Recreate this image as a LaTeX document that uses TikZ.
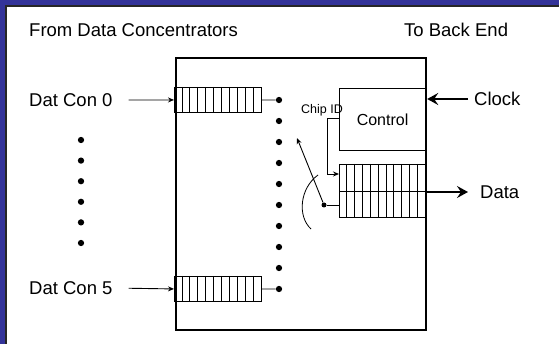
\documentclass[tikz,border=0pt]{standalone}
\usepackage{fontspec}
\setmainfont{Liberation Sans}
\usetikzlibrary{arrows.meta,positioning}
\definecolor{slideblue}{RGB}{51,51,153}

\begin{document}
\begin{tikzpicture}[x=1pt,y=-1pt,
  lbl/.style={inner sep=0pt, anchor=west, text depth=0pt,
    font=\fontsize{18.5}{22}\selectfont},
  smalllbl/.style={inner sep=0pt, anchor=west, text depth=0pt,
    font=\fontsize{12.5}{14}\selectfont},
  chipbox/.style={draw, line width=2.2pt, inner sep=0pt, anchor=north west},
  fifo/.style={draw, line width=0.9pt, inner sep=0pt, anchor=north west},
  ctrlbox/.style={draw, line width=1.1pt, inner sep=0pt, anchor=north west,
    minimum width=86pt, minimum height=62pt,
    font=\fontsize{16}{18}\selectfont},
  dot/.style={circle, fill=black, inner sep=0pt, minimum size=6.3pt},
  cellline/.style={line width=0.8pt},
  inarr/.style={-{Stealth[length=6pt,width=5pt]}, line width=0.9pt},
  bigarr/.style={-{Stealth[length=11pt,width=12pt,inset=4pt]}, line width=2pt}
]
% slide frame
\useasboundingbox (0,0) rectangle (559,344);
\fill[slideblue] (0,0) rectangle (559,344);
\fill[white] (5.5,5.5) rectangle (559,344);
\draw[line width=1.5pt, black!85] (6.2,344) -- (6.2,6.2) -- (559,6.2);

\node[lbl] (from) at (29,30)  {From Data Concentrators};
\node[lbl] (to)   at (404,30) {To Back End};

% chip outline
\node[chipbox, minimum width=250pt, minimum height=272pt] (chip) at (175,57) {};

% input fifos
\foreach \q/\y in {q0/87, q5/276} {
  \node[fifo, minimum width=87pt, minimum height=25pt] (\q) at (174,\y) {};
  \foreach \i in {1,...,10}
    \draw[cellline] (174+\i*7.91,\y) -- ++(0,25);
}

% switch contacts
\foreach \k in {0,...,9}
  \node[dot] (d\k) at (279,100+21*\k) {};
\draw[cellline] (q0.east) -- (d0);
\draw[cellline] (q5.east) -- (d9);

% inputs
\node[lbl] (dc0) at (29,100) {Dat Con 0};
\node[lbl] (dc5) at (29,288) {Dat Con 5};
\draw[inarr, shorten <=16pt] (dc0.east) -- (q0.west);
\draw[inarr, shorten <=16pt] (dc5.east) -- (q5.west);
\foreach \k in {0,...,5}
  \node[dot] (v\k) at (81,140+20.6*\k) {};

% control and output fifo
\node[ctrlbox] (ctrl) at (339,88) {Control};
\node[fifo, minimum width=86pt, minimum height=53pt] (ofifo) at (339,164) {};
\draw[cellline] (ofifo.west) -- (ofifo.east);
\foreach \i in {1,...,10}
  \draw[cellline] (339+\i*7.82,164) -- ++(0,53);

\node[smalllbl] (chipid) at (301,109) {Chip ID};
\coordinate (cid) at (339,118);
\coordinate (fin) at (339,174);
\draw[inarr] (cid) -- ++(-12,0) |- (fin);

% rotating switch
\node[dot, minimum size=5pt] (pivot) at (324,205) {};
\coordinate (armtip) at (297,138);
\draw[cellline] (pivot) -- (pivot -| ofifo.west);
\draw[inarr] (pivot) -- (armtip);
\draw[cellline] (318,175) .. controls (300,188) and (297,216) .. (311,229);

% clock and data
\node[lbl] (clk)  at (474,99)  {Clock};
\node[lbl] (data) at (480,192) {Data};
\draw[bigarr, shorten <=6pt] (clk.west) -- (chip.east |- clk.west);
\draw[bigarr, shorten >=12pt] (chip.east |- data.west) -- (data.west);
\end{tikzpicture}
\end{document}
